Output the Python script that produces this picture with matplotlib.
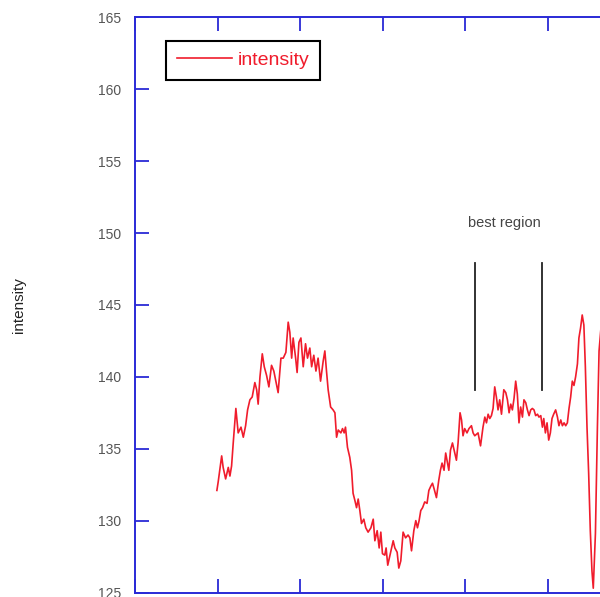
import matplotlib
matplotlib.use("Agg")
import matplotlib.pyplot as plt

# sample position (same units as the x ticks, one tick every 50)
position = [
    49.6, 50.4, 52.5, 53.4, 54.9, 56.5, 57.5, 58.5, 59.5, 61.1, 62.5, 64.2, 65.6, 67.0, 68.2,
    69.6, 71.0, 72.6, 73.7, 74.6, 75.7, 77.1, 78.3, 79.7, 81.1, 82.7, 84.1, 85.3, 86.7, 88.4,
    89.8, 91.4, 92.8, 93.8, 94.9, 95.8, 97.3, 98.2, 99.3, 100.5, 101.9, 103.3, 104.5, 105.9,
    107.0, 108.3, 109.6, 110.9, 112.4, 114.0, 115.0, 116.0, 117.0, 118.5, 120.0, 121.1, 122.1,
    123.1, 124.7, 125.7, 126.7, 127.5, 128.7, 130.1, 131.2, 132.1, 133.2, 134.2, 135.2, 136.2,
    137.2, 138.6, 139.8, 141.2, 142.9, 144.3, 145.3, 146.7, 147.9, 148.9, 149.9, 151.3, 152.1,
    153.1, 155.4, 156.4, 157.4, 158.8, 159.8, 161.0, 162.4, 163.9, 165.4, 166.5, 167.5, 168.9,
    170.1, 171.1, 172.1, 173.1, 174.2, 175.5, 176.9, 178.0, 179.2, 180.2, 181.2, 182.6, 184.0,
    185.0, 186.0, 187.2, 188.2, 189.3, 190.1, 191.1, 192.3, 193.7, 194.7, 195.7, 196.9, 197.8,
    198.7, 199.7, 201.1, 202.3, 203.8, 204.8, 205.8, 207.8, 209.3, 210.8, 211.9, 212.9, 213.9,
    214.9, 215.9, 216.9, 217.9, 218.9, 219.9, 220.9, 222.0, 223.4, 224.6, 225.6, 226.6, 227.6,
    228.6, 229.6, 230.6, 231.6, 232.6, 233.6, 234.7, 235.6, 236.7, 237.7, 238.7, 239.7, 240.7,
    241.7, 242.7, 243.8, 244.7, 245.8, 246.8, 247.6, 248.6, 249.6, 250.6, 251.6, 252.6, 253.6,
    254.8, 255.9, 256.8, 257.9, 258.9, 259.9, 260.9, 261.9, 262.9, 263.9, 264.9, 265.9, 266.9,
    268.0, 268.9, 269.9, 270.9, 271.9, 272.8, 273.8, 274.8, 275.8, 276.8, 277.6, 278.9, 280.1,
    281.1, 282.7,
]
intensity = [
    132.1, 132.7, 134.5, 133.7, 132.9, 133.7, 133.1, 133.8, 135.4, 137.8, 136.1, 136.5, 135.8,
    136.6, 137.7, 138.4, 138.6, 139.6, 139.1, 138.1, 140.0, 141.6, 140.7, 140.1, 139.3, 140.8,
    140.4, 139.7, 138.9, 141.3, 141.3, 141.7, 143.8, 143.1, 141.3, 142.7, 141.3, 140.3, 142.4,
    142.7, 140.7, 142.3, 141.3, 142.0, 140.7, 141.5, 140.4, 141.3, 139.7, 141.1, 141.8, 140.4,
    139.1, 137.9, 137.7, 137.5, 135.8, 136.3, 136.1, 136.4, 136.1, 136.5, 135.1, 134.4, 133.5,
    131.9, 131.4, 130.9, 131.5, 130.7, 129.8, 130.1, 129.5, 129.2, 129.5, 130.1, 128.6, 129.3,
    128.1, 129.2, 127.7, 127.6, 128.1, 126.9, 128.1, 128.6, 128.1, 127.8, 126.7, 127.2, 129.2,
    128.8, 129.0, 128.8, 127.9, 129.3, 130.0, 129.5, 130.0, 130.7, 130.9, 131.3, 131.2, 132.1,
    132.4, 132.6, 132.2, 131.6, 132.8, 133.5, 134.0, 133.5, 134.7, 134.0, 133.5, 134.9, 135.4,
    134.7, 134.2, 135.4, 137.5, 137.0, 135.9, 136.4, 136.1, 136.4, 136.6, 136.1, 135.9, 136.1,
    135.2, 136.5, 137.2, 136.8, 137.4, 137.1, 137.3, 137.8, 139.3, 138.6, 137.7, 138.4, 137.4,
    139.1, 138.9, 138.4, 137.5, 138.1, 137.7, 138.5, 139.7, 138.8, 136.8, 137.9, 137.2, 138.4,
    138.2, 137.7, 137.3, 137.7, 137.8, 137.7, 137.3, 137.4, 137.2, 137.3, 136.5, 137.1, 136.1,
    136.8, 135.6, 136.1, 137.1, 137.4, 137.7, 137.2, 136.6, 137.0, 136.6, 136.8, 136.6, 136.8,
    137.8, 138.6, 139.7, 139.4, 140.0, 140.9, 142.7, 143.4, 144.3, 143.6, 140.7, 136.5, 133.3,
    129.3, 126.5, 125.3, 129.1, 136.5, 141.8, 144.0,
]

y_ticks = [125, 130, 135, 140, 145, 150, 155, 160, 165]
x_ticks = [0, 50, 100, 150, 200, 250, 300, 350]

# "best region" markers: x position and vertical extent
region_x = [205.8, 246.4]
region_bottom = 139.1
region_top = 147.9

axis_blue = "#2a2ad6"
line_red = "#f01c2c"

fig = plt.figure(figsize=(6.0, 5.97), dpi=100)
ax = fig.add_axes([0.225, 0.0075, 0.963, 0.9635])

ax.plot(position, intensity, color=line_red, linewidth=1.2, label="intensity")

for x in region_x:
    ax.plot([x, x], [region_bottom, region_top], color="#222222", linewidth=1.3)
ax.text(223.5, 150.7, "best region", ha="center", va="center",
        fontsize=10.5, color="#444444", family="Liberation Sans")

ax.set_xlim(0, 350)
ax.set_ylim(125, 165)
ax.set_xticks(x_ticks)
ax.set_yticks(y_ticks)
ax.tick_params(axis="x", direction="in", length=10, width=1.3, color=axis_blue,
               top=True, bottom=True, labelbottom=False)
ax.tick_params(axis="y", direction="in", length=10, width=1.3, color=axis_blue,
               labelsize=10, labelcolor="#555555", pad=10)
for label in ax.get_yticklabels():
    label.set_family("Liberation Sans")
for spine in ax.spines.values():
    spine.set_color(axis_blue)
    spine.set_linewidth(1.4)

ax.set_ylabel("intensity", fontsize=11, family="Liberation Sans", color="#222222", labelpad=52)

leg = ax.legend(loc="upper left", bbox_to_anchor=(0.0365, 0.9765), fancybox=False,
                framealpha=1, edgecolor="black", handlelength=2.85, borderpad=0.55,
                handletextpad=0.3, prop={"family": "Liberation Sans", "size": 14})
leg.get_frame().set_linewidth(1.5)
for t in leg.get_texts():
    t.set_color(line_red)

fig.savefig("out.png", dpi=100)
